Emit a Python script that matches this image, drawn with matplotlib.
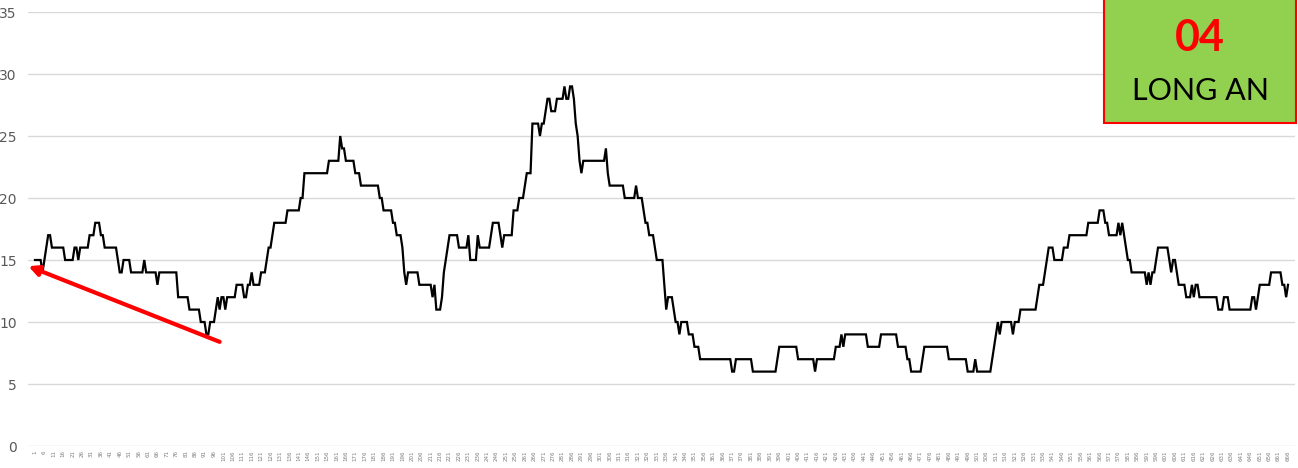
import matplotlib
matplotlib.use('Agg')
import matplotlib.pyplot as plt
from matplotlib.patches import Rectangle

# daily readings (index 1..666)
values = [
    15, 15, 15, 15, 14, 15, 16, 17, 17, 16, 16, 16, 16, 16, 16, 16, 15, 15, 15, 15, 15, 16, 16, 15, 16, 16, 16, 16, 16,
    17, 17, 17, 18, 18, 18, 17, 17, 16, 16, 16, 16, 16, 16, 16, 15, 14, 14, 15, 15, 15, 15,
    14, 14, 14, 14, 14, 14, 14, 15, 14, 14, 14, 14, 14, 14, 13,
    14, 14, 14, 14, 14, 14, 14, 14, 14, 14, 12, 12, 12, 12, 12, 12, 11, 11, 11, 11, 11, 11,
    10, 10, 10, 9, 9, 10, 10, 10, 11, 12, 11,
    12, 12, 11, 12, 12, 12, 12, 12, 13, 13, 13, 13, 12, 12, 13, 13, 14, 13, 13, 13, 13, 14, 14, 14, 15, 16, 16, 17,
    18, 18, 18, 18, 18, 18, 18, 19, 19, 19, 19, 19, 19, 19, 20, 20,
    22, 22, 22, 22, 22, 22, 22, 22, 22, 22, 22, 22, 22, 23, 23, 23, 23, 23, 23, 25, 24, 24,
    23, 23, 23, 23, 23, 22, 22, 22, 21, 21, 21, 21, 21, 21, 21, 21, 21, 21,
    20, 20, 19, 19, 19, 19, 19, 18, 18, 17, 17, 17, 16, 14, 13,
    14, 14, 14, 14, 14, 14, 13, 13, 13, 13, 13, 13, 13, 12, 13, 11, 11, 11, 12, 14, 15, 16,
    17, 17, 17, 17, 17, 16, 16, 16, 16, 16, 17, 15, 15, 15, 15, 17,
    16, 16, 16, 16, 16, 16, 17, 18, 18, 18, 18, 17, 16, 17, 17, 17, 17, 17,
    19, 19, 19, 20, 20, 20, 21, 22, 22, 22, 26, 26, 26, 26, 25, 26, 26,
    27, 28, 28, 27, 27, 27, 28, 28, 28, 28, 29, 28, 28, 29, 29, 28, 26, 25, 23, 22,
    23, 23, 23, 23, 23, 23, 23, 23, 23, 23, 23, 23, 24, 22,
    21, 21, 21, 21, 21, 21, 21, 21, 20, 20, 20, 20, 20, 20, 21, 20, 20, 20, 19, 18, 18, 17, 17, 17,
    16, 15, 15, 15, 15, 13, 11, 12, 12, 12, 11, 10, 10, 9, 10, 10, 10, 10, 9, 9, 9, 8, 8, 8,
    7, 7, 7, 7, 7, 7, 7, 7, 7, 7, 7, 7, 7, 7, 7, 7, 7, 6, 6, 7, 7, 7, 7, 7, 7, 7, 7, 7,
    6, 6, 6, 6, 6, 6, 6, 6, 6, 6, 6, 6, 6, 7, 8, 8, 8, 8, 8, 8, 8, 8, 8, 8,
    7, 7, 7, 7, 7, 7, 7, 7, 7, 6, 7, 7, 7, 7, 7, 7, 7, 7, 7, 7, 8, 8, 8, 9, 8,
    9, 9, 9, 9, 9, 9, 9, 9, 9, 9, 9, 9, 8, 8, 8, 8, 8, 8, 8,
    9, 9, 9, 9, 9, 9, 9, 9, 9, 8, 8, 8, 8, 8, 7, 7, 6, 6, 6, 6, 6, 6, 7,
    8, 8, 8, 8, 8, 8, 8, 8, 8, 8, 8, 8, 8, 7, 7, 7, 7, 7, 7, 7, 7, 7, 7,
    6, 6, 6, 6, 7, 6, 6, 6, 6, 6, 6, 6, 6,
    7, 8, 9, 10, 9, 10, 10, 10, 10, 10, 10, 9, 10, 10, 10, 11, 11, 11, 11, 11, 11, 11, 11, 11,
    12, 13, 13, 13, 14, 15, 16, 16, 16, 15, 15, 15, 15, 15, 16, 16, 16,
    17, 17, 17, 17, 17, 17, 17, 17, 17, 17, 18, 18, 18, 18, 18, 18, 19, 19, 19, 18, 18,
    17, 17, 17, 17, 17, 18, 17, 18, 17, 16, 15, 15, 14, 14, 14, 14, 14, 14, 14, 14,
    13, 14, 13, 14, 14, 15, 16, 16, 16, 16, 16, 16, 15, 14, 15, 15, 14, 13, 13, 13, 13,
    12, 12, 12, 13, 12, 13, 13, 12, 12, 12, 12, 12, 12, 12, 12, 12, 12,
    11, 11, 11, 12, 12, 12, 11, 11, 11, 11, 11, 11, 11, 11, 11, 11, 11, 11,
    12, 12, 11, 12, 13, 13, 13, 13, 13, 13, 14, 14, 14, 14, 14, 14, 13, 13, 12, 13,
]
days = list(range(1, len(values) + 1))
tick_days = days[::5]
y_ticks = [0, 5, 10, 15, 20, 25, 30, 35]

title_code = '04'
title_name = 'LONG AN'

fig = plt.figure(figsize=(12.98, 4.68), dpi=100)
ax = fig.add_axes([28 / 1298, 1 - 446 / 468, 1267 / 1298, 434 / 468])

ax.plot(days, values, color='black', lw=1.6, solid_joinstyle='miter')

ax.set_xlim(-2.7, len(values) + 3.7)
ax.set_ylim(0, 35)
ax.set_yticks(y_ticks)
ax.set_xticks(tick_days)
ax.set_xticklabels([str(d) for d in tick_days], rotation=90, fontsize=4, color='#7f7f7f')
ax.tick_params(axis='y', labelsize=10, colors='#595959', length=0, pad=8)
ax.tick_params(axis='x', length=0, pad=3)
ax.grid(axis='y', color='#d9d9d9', lw=1)
ax.set_axisbelow(True)
for s in ax.spines.values():
    s.set_visible(False)

# red trend arrow
ax.annotate('', xy=(-2.5, 14.5), xytext=(99, 8.4),
            arrowprops=dict(arrowstyle='-|>,head_length=0.6,head_width=0.3', color='#ff0000', lw=3,
                            shrinkA=0, shrinkB=0))

# province badge, top right
fig.patches.append(Rectangle((1104 / 1298, 1 - 123 / 468), 192 / 1298, 125 / 468, transform=fig.transFigure,
                             facecolor='#92d050', edgecolor='#ff0000', lw=1.5, zorder=5))
fig.text(1200 / 1298, 1 - 38 / 468, title_code, ha='center', va='center', fontsize=31, fontweight='bold',
         color='#ff0000', family='Lato', zorder=6)
fig.text(1200 / 1298, 1 - 91 / 468, title_name, ha='center', va='center', fontsize=22, color='black',
         family='Lato', zorder=6)

fig.savefig('out.png', dpi=100)
